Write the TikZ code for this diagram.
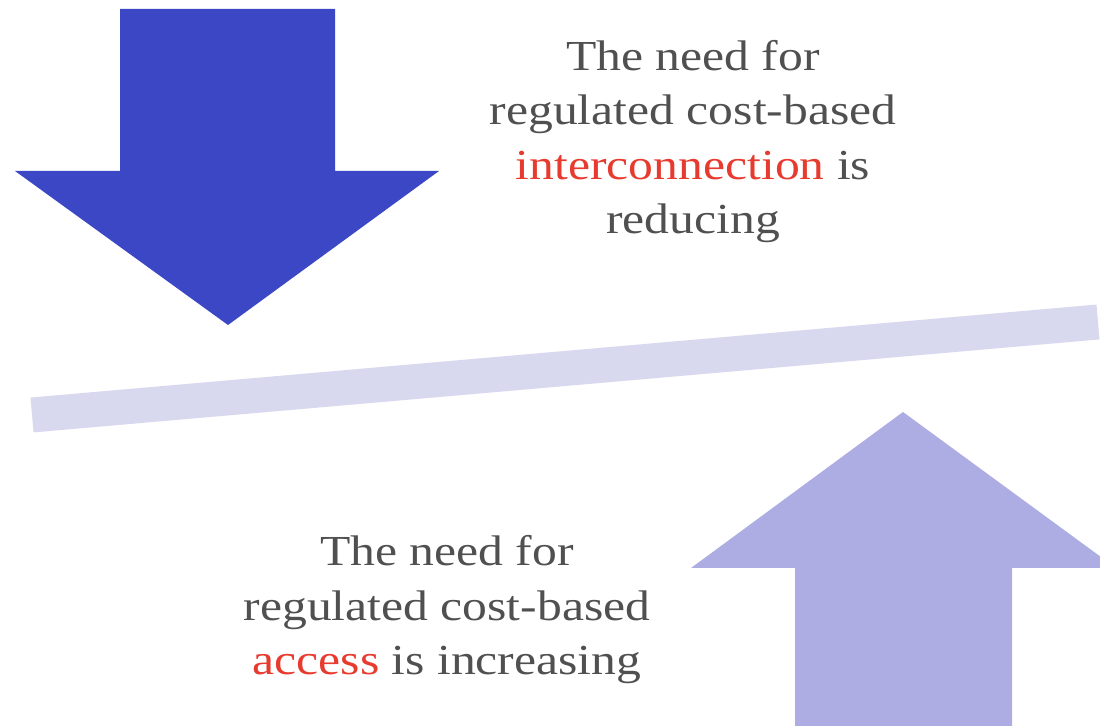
\documentclass[tikz,border=0pt]{standalone}
\usepackage{fontspec}
\setmainfont{Liberation Serif}[FakeStretch=1.16]
\definecolor{darkarrow}{HTML}{3B47C4}
\definecolor{lightarrow}{HTML}{ADADE3}
\definecolor{beam}{HTML}{D8D8EE}
\definecolor{bodytext}{HTML}{505050}
\definecolor{keyword}{HTML}{E83B2F}
\begin{document}
\begin{tikzpicture}[x=0.5pt,y=-0.5pt,
  label text/.style={align=center,inner sep=0pt,text=bodytext,
    font=\fontsize{21.4}{27.3}\selectfont}]
\useasboundingbox (0,0) rectangle (1100,726);
% tilted beam
\coordinate (beamL) at (32,415);
\coordinate (beamR) at (1098,322);
\draw[beam,line width=17.5pt] (beamL) -- (beamR);
% downward arrow
\fill[darkarrow] (120,9) -- (335,9) -- (335,171) -- (439,171) -- (228,325)
  -- (15,171) -- (120,171) -- cycle;
% upward arrow (runs off the right and bottom edges)
\fill[lightarrow] (903,412) -- (1116,568) -- (1012,568) -- (1012,730)
  -- (795,730) -- (795,568) -- (691,568) -- cycle;
% captions (anchored at the baseline of their last line)
\node[label text,anchor=base] (top) at (693,234)
  {The need for\\regulated cost-based\\\textcolor{keyword}{interconnection} is\\reducing};
\node[label text,anchor=base] (bottom) at (447,675)
  {The need for\\regulated cost-based\\\textcolor{keyword}{access} is increasing};
\end{tikzpicture}
\end{document}
